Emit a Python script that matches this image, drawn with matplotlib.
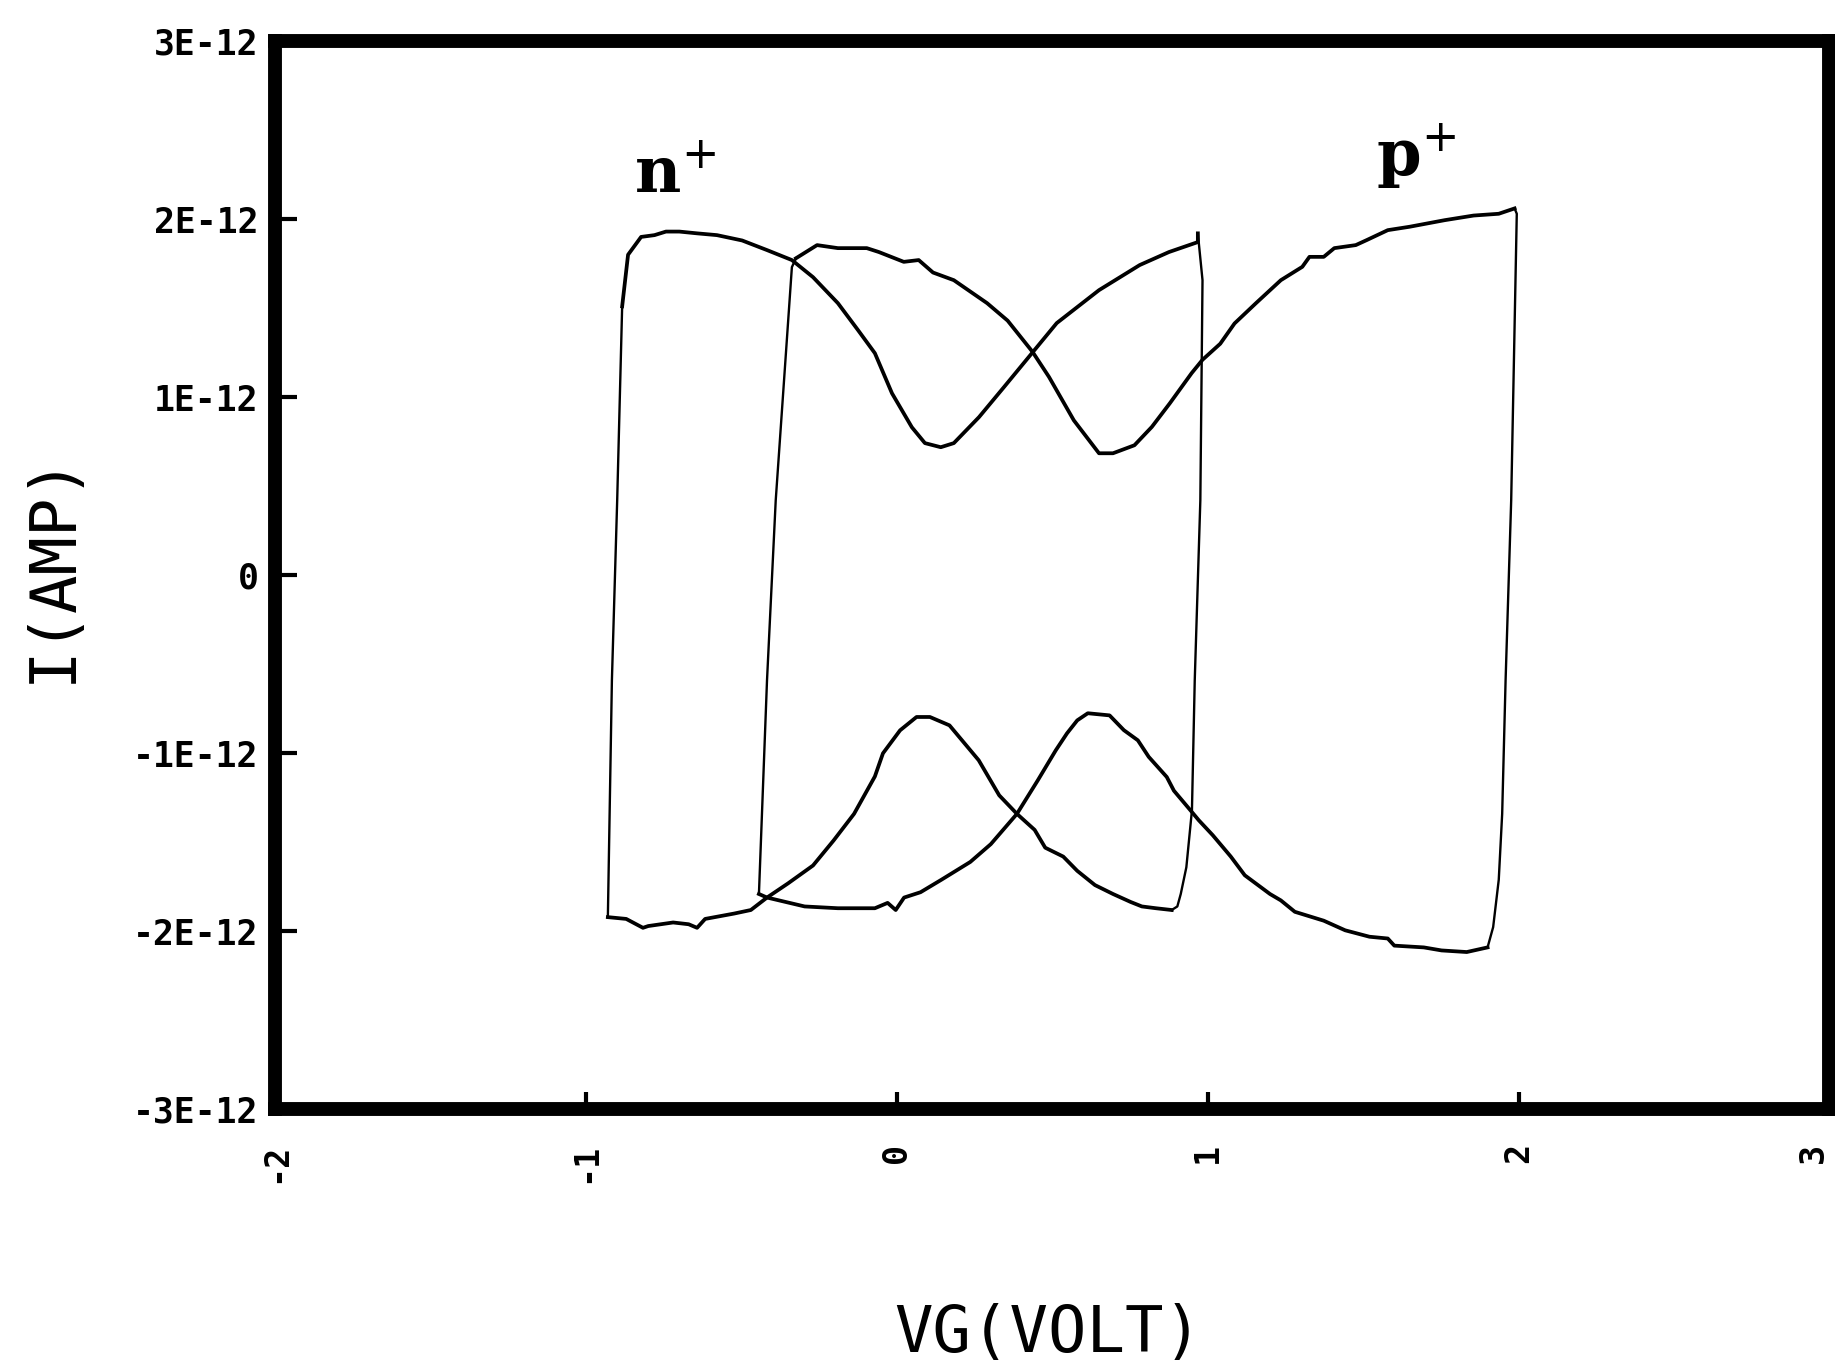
import matplotlib
matplotlib.use('Agg')
from matplotlib import pyplot as plt
import numpy as np

plt.rcParams['mathtext.fontset'] = 'dejavuserif'

# values, gate voltage in V, current in units of 1E-12 A
# n+ loop
n_left_v = [-0.93, -0.917, -0.90, -0.884]
n_left_i = [-1.92, -0.59, 0.42, 1.51]
n_up_v = [-0.884, -0.865, -0.823, -0.78, -0.743, -0.70, -0.643, -0.579, -0.498, -0.418,
          -0.338, -0.270, -0.190, -0.125, -0.071, -0.016, 0.048, 0.090, 0.141, 0.183,
          0.264, 0.344, 0.437, 0.514, 0.650, 0.781, 0.875, 0.968, 0.968]
n_up_i = [1.51, 1.80, 1.90, 1.91, 1.93, 1.93, 1.92, 1.91, 1.88, 1.826,
          1.77, 1.674, 1.528, 1.376, 1.247, 1.022, 0.831, 0.742, 0.719, 0.742,
          0.888, 1.056, 1.253, 1.416, 1.601, 1.742, 1.815, 1.871, 1.92]
n_right_v = [0.968, 0.983, 0.976, 0.958, 0.949, 0.931, 0.913, 0.902, 0.884]
n_right_i = [1.92, 1.657, 0.42, -0.59, -1.32, -1.64, -1.79, -1.86, -1.88]
n_lo_v = [0.884, 0.833, 0.788, 0.752, 0.695, 0.637, 0.58, 0.535, 0.477, 0.443,
          0.386, 0.329, 0.263, 0.169, 0.106, 0.063, 0.010, -0.045, -0.071, -0.138,
          -0.204, -0.27, -0.35, -0.418, -0.47, -0.524, -0.617, -0.643, -0.67, -0.72,
          -0.80, -0.817, -0.871, -0.93]
n_lo_i = [-1.88, -1.87, -1.86, -1.835, -1.79, -1.74, -1.66, -1.58, -1.53, -1.43,
          -1.34, -1.236, -1.039, -0.843, -0.796, -0.796, -0.871, -1.0, -1.13, -1.34,
          -1.49, -1.63, -1.73, -1.81, -1.88, -1.90, -1.93, -1.98, -1.96, -1.95,
          -1.97, -1.98, -1.93, -1.92]

# p+ loop
p_left_v = [-0.444, -0.418, -0.39, -0.338, -0.325]
p_left_i = [-1.79, -0.59, 0.42, 1.73, 1.78]
p_up_v = [-0.325, -0.257, -0.19, -0.097, -0.058, 0.022, 0.07, 0.116, 0.183, 0.29,
          0.356, 0.436, 0.489, 0.569, 0.65, 0.695, 0.764, 0.82, 0.878, 0.948,
          0.983, 1.04, 1.086, 1.155, 1.235, 1.304, 1.327, 1.373, 1.407, 1.476,
          1.511, 1.579, 1.649, 1.762, 1.855, 1.936, 1.987]
p_up_i = [1.78, 1.854, 1.837, 1.837, 1.815, 1.76, 1.77, 1.70, 1.657, 1.528,
          1.43, 1.255, 1.114, 0.87, 0.685, 0.685, 0.73, 0.833, 0.966, 1.135,
          1.21, 1.30, 1.414, 1.528, 1.657, 1.732, 1.788, 1.788, 1.837, 1.854,
          1.882, 1.938, 1.957, 1.994, 2.02, 2.03, 2.06]
p_right_v = [1.987, 1.994, 1.976, 1.958, 1.947, 1.936, 1.918, 1.90]
p_right_i = [2.06, 2.03, 0.42, -0.59, -1.34, -1.71, -1.976, -2.09]
p_lo_v = [1.90, 1.833, 1.752, 1.695, 1.60, 1.579, 1.52, 1.442, 1.373, 1.28,
          1.235, 1.20, 1.119, 1.074, 1.016, 0.971, 0.949, 0.891, 0.868, 0.81,
          0.775, 0.73, 0.684, 0.614, 0.58, 0.547, 0.511, 0.453, 0.386, 0.302,
          0.236, 0.143, 0.076, 0.023, -0.004, -0.03, -0.071, -0.19, -0.297, -0.418,
          -0.444]
p_lo_i = [-2.09, -2.116, -2.107, -2.09, -2.08, -2.04, -2.03, -1.994, -1.94, -1.89,
          -1.826, -1.79, -1.685, -1.58, -1.46, -1.376, -1.33, -1.21, -1.133, -1.02,
          -0.927, -0.87, -0.787, -0.775, -0.815, -0.888, -0.983, -1.152, -1.34, -1.51,
          -1.61, -1.71, -1.78, -1.81, -1.88, -1.84, -1.87, -1.87, -1.86, -1.81,
          -1.79]

x_ticks = [-2, -1, 0, 1, 2, 3]
x_labels = ['-2', '-1', '0', '1', '2', '3']
y_ticks = [3e-12, 2e-12, 1e-12, 0, -1e-12, -2e-12, -3e-12]
y_labels = ['3E-12', '2E-12', '1E-12', '0', '-1E-12', '-2E-12', '-3E-12']

fig = plt.figure(figsize=(18.35, 13.68), dpi=100)
ax = fig.add_axes([0.150, 0.189, 0.847, 0.781])

scale = 1e-12
for v, i in [(n_up_v, n_up_i), (n_lo_v, n_lo_i), (p_up_v, p_up_i), (p_lo_v, p_lo_i)]:
    ax.plot(v, np.array(i) * scale, color='black', lw=2.7, solid_joinstyle='round')
for v, i in [(n_left_v, n_left_i), (n_right_v, n_right_i), (p_left_v, p_left_i), (p_right_v, p_right_i)]:
    ax.plot(v, np.array(i) * scale, color='black', lw=1.7)

ax.set_xlim(-2, 3)
ax.set_ylim(-3e-12, 3e-12)

for s in ax.spines.values():
    s.set_linewidth(10)
    s.set_color('black')

ax.set_xticks(x_ticks)
ax.set_xticklabels(x_labels, rotation=90, fontsize=24, fontweight='bold', family='DejaVu Sans Mono')
# the last label sits on the figure edge, keep it just inside
ax.get_xticklabels()[-1].set_horizontalalignment('right')
ax.set_yticks(y_ticks)
ax.set_yticklabels(y_labels, fontsize=25, fontweight='bold', family='DejaVu Sans Mono')
ax.tick_params(axis='x', direction='in', length=12, width=3, pad=24)
ax.tick_params(axis='y', direction='in', length=16, width=3, pad=12)

fig.text(0.029, 0.585, 'I(AMP)', rotation=90, fontsize=46, family='DejaVu Sans Mono',
         ha='center', va='center')
fig.text(0.571, 0.025, 'VG(VOLT)', fontsize=46, family='DejaVu Sans Mono',
         ha='center', va='center')

ax.text(-0.846, 2.146e-12, r'n$^{+}$', fontsize=46, family='DejaVu Serif',
        fontweight='bold', ha='left', va='baseline')
ax.text(1.54, 2.24e-12, r'p$^{+}$', fontsize=46, family='DejaVu Serif',
        fontweight='bold', ha='left', va='baseline')

plt.savefig('out.png', dpi=100)
